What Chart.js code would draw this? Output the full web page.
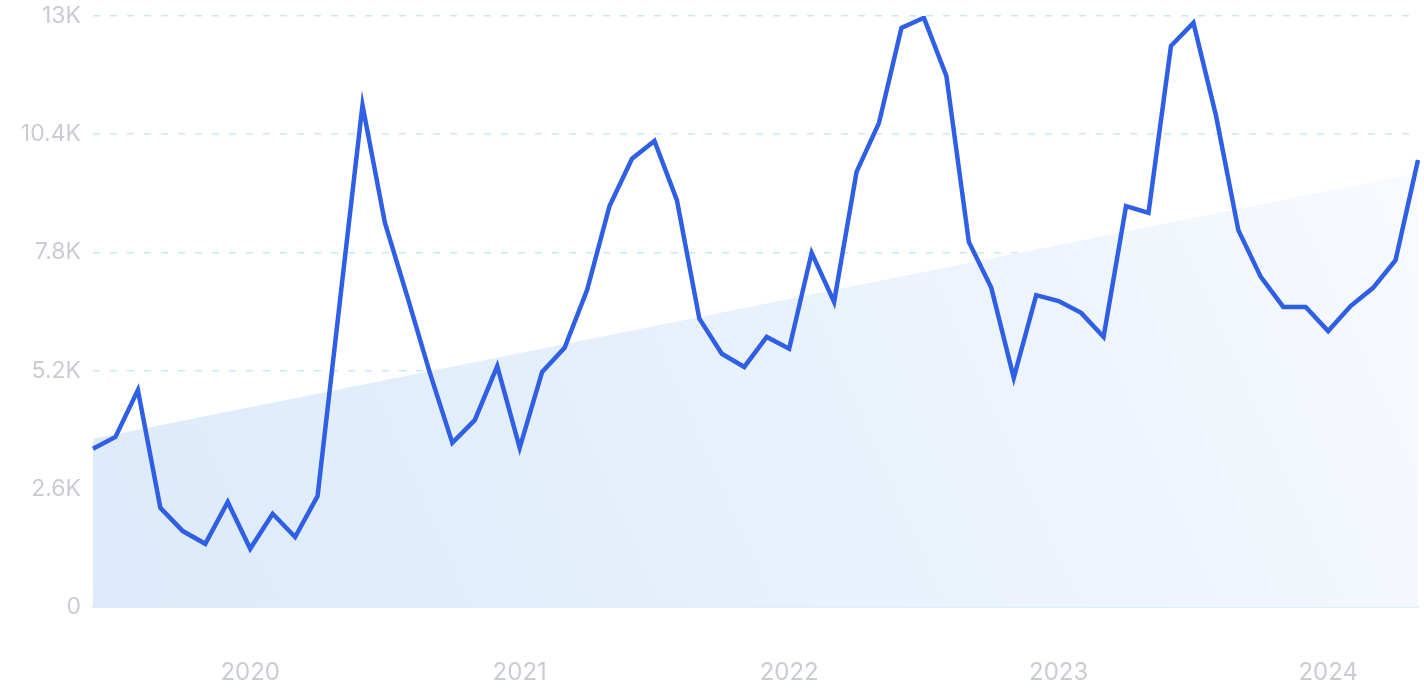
<!DOCTYPE html>
<html>
<head>
<meta charset="utf-8">
<script src="https://cdn.jsdelivr.net/npm/chart.js@4"></script>
<style>
  html, body { margin: 0; padding: 0; background: #fff; }
  #wrap { width: 1424px; height: 700px; }
</style>
</head>
<body>
<div id="wrap"><canvas id="myChart" width="1424" height="700"></canvas></div>
<script>
// months, Jun 2019 .. May 2024
const months = [
  '2019-06','2019-07','2019-08','2019-09','2019-10','2019-11','2019-12',
  '2020-01','2020-02','2020-03','2020-04','2020-05','2020-06','2020-07','2020-08','2020-09','2020-10','2020-11','2020-12',
  '2021-01','2021-02','2021-03','2021-04','2021-05','2021-06','2021-07','2021-08','2021-09','2021-10','2021-11','2021-12',
  '2022-01','2022-02','2022-03','2022-04','2022-05','2022-06','2022-07','2022-08','2022-09','2022-10','2022-11','2022-12',
  '2023-01','2023-02','2023-03','2023-04','2023-05','2023-06','2023-07','2023-08','2023-09','2023-10','2023-11','2023-12',
  '2024-01','2024-02','2024-03','2024-04','2024-05'
];

// search volume
const volume = [
  3480, 3740, 4770, 2180, 1670, 1390, 2310,
  1280, 2050, 1540, 2440, 6750, 11040, 8450, 6820, 5150, 3610, 4110, 5300,
  3500, 5170, 5700, 6970, 8820, 9860, 10250, 8950, 6340, 5570, 5280, 5940,
  5680, 7790, 6710, 9570, 10650, 12740, 12960, 11680, 8030, 7020, 5040, 6860,
  6730, 6470, 5940, 8820, 8670, 12340, 12850, 10820, 8290, 7260, 6600, 6600,
  6070, 6620, 7020, 7630, 9830
];

// trend line ends
const trendStart = 3700;
const trendEnd = 9550;

const yTicks = ['0', '2.6K', '5.2K', '7.8K', '10.4K', '13K'];

window.addEventListener("load", function () {
    const canvas = document.getElementById("myChart");
    const ctx = canvas.getContext("2d");

    function trendFill(context) {
        const area = context.chart.chartArea;
        if (!area) return 'rgba(220,234,250,0.9)';
        const g = context.chart.ctx.createLinearGradient(area.left, area.bottom, area.right, area.top);
        g.addColorStop(0, 'rgba(220,234,251,1)');
        g.addColorStop(0.55, 'rgba(234,242,252,1)');
        g.addColorStop(1, 'rgba(249,251,255,1)');
        return g;
    }

    new Chart(ctx, {
        type: 'line',
        data: {
            labels: months,
            datasets: [{
                data: volume,
                borderColor: '#2e5fe4',
                borderWidth: 4.5,
                pointRadius: 0,
                tension: 0,
                fill: false,
                order: 0
            }, {
                data: [
                    { x: months[0], y: trendStart },
                    { x: months[months.length - 1], y: trendEnd }
                ],
                borderWidth: 0,
                borderColor: 'rgba(0,0,0,0)',
                backgroundColor: trendFill,
                pointRadius: 0,
                fill: 'origin',
                order: 1
            }]
        },
        options: {
            responsive: false,
            animation: false,
            layout: { padding: { top: 16, right: 6, left: 0, bottom: 0 } },
            plugins: {
                legend: { display: false },
                tooltip: { enabled: false }
            },
            scales: {
                x: {
                    z: 1,
                    offset: false,
                    grid: { display: false },
                    border: { display: true, color: '#bde0fa', width: 1.5 },
                    ticks: {
                        autoSkip: false,
                        maxRotation: 0,
                        padding: 43,
                        color: '#c9ccd3',
                        font: { family: 'Inter, "Noto Sans", sans-serif', size: 24 },
                        callback: function (v, i) {
                            const m = months[i];
                            return m.endsWith('-01') ? m.slice(0, 4) : '';
                        }
                    },
                    afterFit: function (s) {
                        s.height = 93;
                        s.paddingLeft = 0;
                        s.paddingRight = 0;
                    }
                },
                y: {
                    min: 0,
                    max: 13000,
                    grid: {
                        drawTicks: false,
                        color: function (c) { return c.index === 0 ? 'rgba(0,0,0,0)' : '#cbe7f7'; },
                        lineWidth: 1.5
                    },
                    border: { display: false, dash: [7, 10] },
                    ticks: {
                        stepSize: 2600,
                        padding: 12,
                        color: '#c9ccd3',
                        font: { family: 'Inter, "Noto Sans", sans-serif', size: 23 },
                        callback: function (v, i) { return yTicks[i]; }
                    },
                    afterFit: function (s) {
                        s.width = 93;
                        s.paddingTop = 0;
                        s.paddingBottom = 0;
                    }
                }
            }
        }
    });
});
</script>
</body>
</html>
